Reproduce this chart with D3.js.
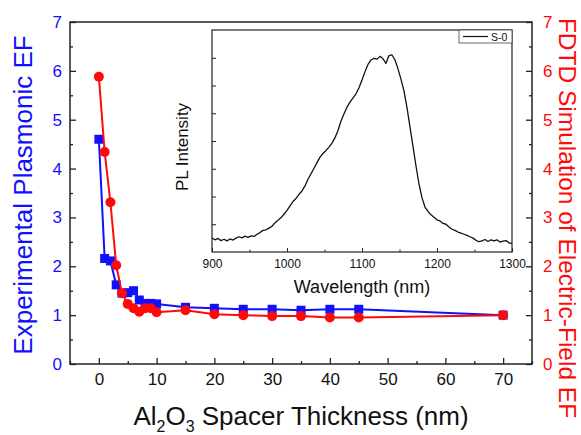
<!DOCTYPE html>
<html>
<head>
<meta charset="utf-8">
<script src="https://cdn.jsdelivr.net/npm/d3@7"></script>
<style>
  html, body { margin: 0; padding: 0; background: #fff; }
  svg { display: block; font-family: "Liberation Sans", Arial, sans-serif; }
</style>
</head>
<body>
<svg id="chart" width="581" height="435"></svg>
<script>
// Spacer thickness (nm) for each sample
const thicknessExp = [0, 1, 2, 3, 4, 5, 6, 7, 8, 9, 10, 15, 20, 25, 30, 35, 40, 45, 70];
const thicknessSim = [0, 1, 2, 3, 4, 5, 6, 7, 8, 9, 10, 15, 20, 25, 30, 35, 40, 45, 70];
// Experimental plasmonic enhancement factor
const experimentalEF = [4.60, 2.16, 2.11, 1.62, 1.45, 1.46, 1.50, 1.31, 1.24, 1.24, 1.23, 1.16, 1.14, 1.12, 1.12, 1.10, 1.12, 1.12, 1.00];
// FDTD simulated electric-field enhancement factor
const simulatedEF = [5.88, 4.34, 3.31, 2.02, 1.45, 1.23, 1.14, 1.07, 1.14, 1.14, 1.06, 1.10, 1.02, 1.00, 0.98, 0.98, 0.95, 0.95, 1.00];

// Tick values
const xMajorTicks = [0, 10, 20, 30, 40, 50, 60, 70];
const xMinorTicks = [-5, 5, 15, 25, 35, 45, 55, 65, 75];
const yMajorTicks = [0, 1, 2, 3, 4, 5, 6, 7];
const yMinorTicks = [0.5, 1.5, 2.5, 3.5, 4.5, 5.5, 6.5];

// PL spectrum of sample S-0 (inset)
const wavelength = [
  900, 904, 908, 912, 916, 920, 924, 928, 932, 936, 940, 944, 948, 952, 956, 960, 964, 968, 972, 976,
  980, 984, 988, 992, 996, 1000, 1004, 1008, 1012, 1016, 1020, 1024, 1028, 1032, 1036, 1040, 1044, 1048, 1052, 1056,
  1060, 1064, 1068, 1072, 1076, 1080, 1084, 1088, 1092, 1096, 1100, 1104, 1108, 1112, 1116, 1120, 1124, 1128, 1132, 1136,
  1140, 1144, 1148, 1152, 1156, 1160, 1164, 1168, 1172, 1176, 1180, 1184, 1188, 1192, 1196, 1200, 1204, 1208, 1212, 1216,
  1220, 1224, 1228, 1232, 1236, 1240, 1244, 1248, 1252, 1256, 1260, 1264, 1268, 1272, 1276, 1280, 1284, 1288, 1292, 1296, 1300
];
const plIntensity = [
  0.50, 0.44, 0.49, 0.41, 0.46, 0.40, 0.47, 0.43, 0.50, 0.55, 0.51, 0.57, 0.53, 0.58, 0.56, 0.64, 0.70, 0.78, 0.80, 0.86,
  0.93, 1.05, 1.14, 1.24, 1.36, 1.50, 1.66, 1.82, 1.93, 2.08, 2.20, 2.38, 2.62, 2.82, 3.02, 3.22, 3.42, 3.55, 3.66, 3.78,
  3.92, 4.12, 4.38, 4.72, 4.98, 5.22, 5.40, 5.55, 5.70, 5.92, 6.20, 6.50, 6.76, 6.92, 6.98, 6.95, 7.05, 6.96, 6.80, 7.08,
  7.10, 6.92, 6.60, 6.22, 5.80, 5.20, 4.50, 3.80, 3.10, 2.45, 1.95, 1.62, 1.46, 1.34, 1.25, 1.16, 1.12, 1.03, 1.00, 0.90,
  0.82, 0.78, 0.72, 0.68, 0.64, 0.60, 0.55, 0.50, 0.42, 0.37, 0.40, 0.45, 0.38, 0.44, 0.40, 0.44, 0.36, 0.39, 0.41, 0.33, 0.30
];
const insetMajorTicks = [900, 1000, 1100, 1200, 1300];
const insetMinorTicks = [950, 1050, 1150, 1250];
const insetYTicks = [1, 2, 3, 4, 5, 6, 7];

const BLUE = "#1010ff";
const RED = "#ff0a0a";

const svg = d3.select("#chart");
svg.append("rect").attr("width", 581).attr("height", 435).attr("fill", "#fff");

const plot = { left: 70, right: 532, top: 22, bottom: 364 };
const x = d3.scaleLinear().domain([-5, 75]).range([plot.left, plot.right]);
const yL = d3.scaleLinear().domain([0, 7]).range([plot.bottom, plot.top]);
const yR = d3.scaleLinear().domain([0, 7]).range([plot.bottom, plot.top]);

function styleAxis(g, color) {
  g.select(".domain").remove();
  g.selectAll(".tick line").attr("stroke", "#222").attr("stroke-width", 1.3);
  g.selectAll(".tick text").attr("fill", color).attr("font-size", 17)
    .attr("font-family", "'Liberation Sans', Arial, sans-serif");
}

// Bottom axis
svg.append("g").attr("transform", `translate(0,${plot.bottom})`)
  .call(d3.axisBottom(x).tickValues(xMajorTicks).tickSize(-6).tickPadding(9).tickFormat(d3.format("d")))
  .call(g => styleAxis(g, "#111"));
svg.append("g").attr("transform", `translate(0,${plot.bottom})`)
  .call(d3.axisBottom(x).tickValues(xMinorTicks).tickSize(-3).tickFormat(""))
  .call(g => styleAxis(g, "#111"));

// Left axis
svg.append("g").attr("transform", `translate(${plot.left},0)`)
  .call(d3.axisLeft(yL).tickValues(yMajorTicks).tickSize(-6).tickPadding(8).tickFormat(d3.format("d")))
  .call(g => styleAxis(g, BLUE));
svg.append("g").attr("transform", `translate(${plot.left},0)`)
  .call(d3.axisLeft(yL).tickValues(yMinorTicks).tickSize(-3).tickFormat(""))
  .call(g => styleAxis(g, BLUE));

// Right axis
svg.append("g").attr("transform", `translate(${plot.right},0)`)
  .call(d3.axisRight(yR).tickValues(yMajorTicks).tickSize(-6).tickPadding(11).tickFormat(d3.format("d")))
  .call(g => styleAxis(g, RED));
svg.append("g").attr("transform", `translate(${plot.right},0)`)
  .call(d3.axisRight(yR).tickValues(yMinorTicks).tickSize(-3).tickFormat(""))
  .call(g => styleAxis(g, RED));

// Plot frame
svg.append("rect")
  .attr("x", plot.left).attr("y", plot.top)
  .attr("width", plot.right - plot.left).attr("height", plot.bottom - plot.top)
  .attr("fill", "none").attr("stroke", "#222").attr("stroke-width", 1.5);

// Inset: PL spectrum
const inset = { left: 212, right: 512, top: 30, bottom: 252 };
const xi = d3.scaleLinear().domain([900, 1300]).range([inset.left, inset.right]);
const yi = d3.scaleLinear().domain([0, 8]).range([inset.bottom, inset.top]);

svg.append("rect")
  .attr("x", inset.left).attr("y", inset.top)
  .attr("width", inset.right - inset.left).attr("height", inset.bottom - inset.top)
  .attr("fill", "#fff");

const insetX = svg.append("g").attr("transform", `translate(0,${inset.bottom})`)
  .call(d3.axisBottom(xi).tickValues(insetMajorTicks).tickSize(-4).tickPadding(7).tickFormat(d3.format("d")));
insetX.select(".domain").remove();
insetX.selectAll(".tick line").attr("stroke", "#222");
insetX.selectAll(".tick text").attr("font-size", 12).attr("fill", "#111")
  .attr("font-family", "'Liberation Sans', Arial, sans-serif");
const insetXMinor = svg.append("g").attr("transform", `translate(0,${inset.bottom})`)
  .call(d3.axisBottom(xi).tickValues(insetMinorTicks).tickSize(-2.5).tickFormat(""));
insetXMinor.select(".domain").remove();
insetXMinor.selectAll(".tick line").attr("stroke", "#222");

const insetY = svg.append("g").attr("transform", `translate(${inset.left},0)`)
  .call(d3.axisLeft(yi).tickValues(insetYTicks).tickSize(-4).tickFormat(""));
insetY.select(".domain").remove();
insetY.selectAll(".tick line").attr("stroke", "#222");

svg.append("path")
  .datum(wavelength.map((w, i) => [w, plIntensity[i]]))
  .attr("fill", "none").attr("stroke", "#111").attr("stroke-width", 1.3)
  .attr("stroke-linejoin", "round")
  .attr("d", d3.line().x(d => xi(d[0])).y(d => yi(d[1])));

svg.append("rect")
  .attr("x", inset.left).attr("y", inset.top)
  .attr("width", inset.right - inset.left).attr("height", inset.bottom - inset.top)
  .attr("fill", "none").attr("stroke", "#222").attr("stroke-width", 1.2);

// Inset legend
const legend = svg.append("g");
legend.append("rect").attr("x", 459).attr("y", inset.top).attr("width", inset.right - 459).attr("height", 13)
  .attr("fill", "#fff").attr("stroke", "#444").attr("stroke-width", 0.8);
legend.append("line").attr("x1", 463).attr("x2", 488).attr("y1", 36.5).attr("y2", 36.5)
  .attr("stroke", "#111").attr("stroke-width", 1.2);
legend.append("text").attr("x", 491).attr("y", 40.5).attr("font-size", 10.5).attr("fill", "#111").text("S-0");

svg.append("text")
  .attr("x", xi(1100)).attr("y", 293).attr("text-anchor", "middle")
  .attr("font-size", 18).attr("fill", "#111").text("Wavelength (nm)");
svg.append("text")
  .attr("transform", `translate(188,147) rotate(-90)`).attr("text-anchor", "middle")
  .attr("font-size", 17).attr("fill", "#111").text("PL Intensity");

// Data series
const lineExp = d3.line().x((d, i) => x(thicknessExp[i])).y(d => yL(d));
const lineSim = d3.line().x((d, i) => x(thicknessSim[i])).y(d => yR(d));

svg.append("path").datum(experimentalEF)
  .attr("fill", "none").attr("stroke", BLUE).attr("stroke-width", 2).attr("d", lineExp);
svg.selectAll(".sq").data(experimentalEF).join("rect")
  .attr("class", "sq")
  .attr("x", (d, i) => x(thicknessExp[i]) - 4.5).attr("y", d => yL(d) - 4.5)
  .attr("width", 9).attr("height", 9).attr("fill", BLUE);

svg.append("path").datum(simulatedEF)
  .attr("fill", "none").attr("stroke", RED).attr("stroke-width", 2).attr("d", lineSim);
svg.selectAll(".dot").data(simulatedEF).join("circle")
  .attr("class", "dot")
  .attr("cx", (d, i) => x(thicknessSim[i])).attr("cy", d => yR(d))
  .attr("r", 5).attr("fill", RED);

// Axis titles
svg.append("text")
  .attr("transform", `translate(32,195) rotate(-90)`).attr("text-anchor", "middle")
  .attr("font-size", 26).attr("fill", BLUE).text("Experimental Plasmonic EF");
svg.append("text")
  .attr("transform", `translate(559,218) rotate(90)`).attr("text-anchor", "middle")
  .attr("font-size", 24.5).attr("fill", RED).text("FDTD Simulation of Electric-Field EF");

const xt = svg.append("text")
  .attr("x", (plot.left + plot.right) / 2).attr("y", 425).attr("text-anchor", "middle")
  .attr("font-size", 26).attr("fill", "#111");
xt.append("tspan").text("Al");
xt.append("tspan").attr("font-size", 16).attr("dy", 7).text("2");
xt.append("tspan").attr("dy", -7).text("O");
xt.append("tspan").attr("font-size", 16).attr("dy", 7).text("3");
xt.append("tspan").attr("dy", -7).text(" Spacer Thickness (nm)");
</script>
</body>
</html>
